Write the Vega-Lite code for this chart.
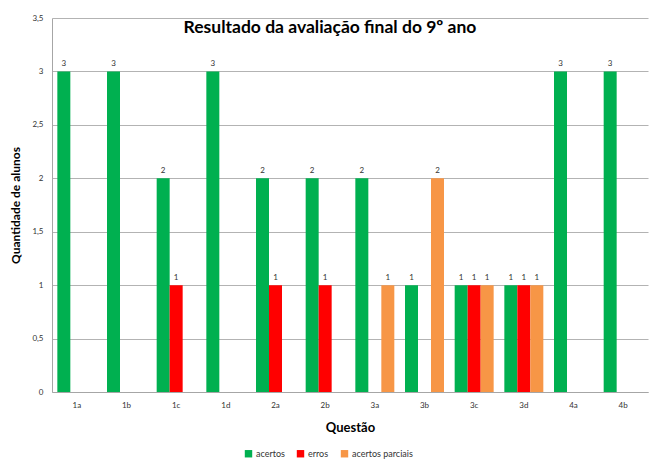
{
  "$schema": "https://vega.github.io/schema/vega-lite/v6.json",
  "width": 596,
  "height": 374,
  "autosize": {"type": "none"},
  "padding": {"left": 52, "top": 18, "right": 12, "bottom": 83},
  "background": "white",
  "title": {
    "text": "Resultado da avaliação final do 9º ano",
    "font": "Lato",
    "fontSize": 17.5,
    "fontWeight": "bold",
    "color": "black",
    "anchor": "middle",
    "baseline": "middle",
    "offset": 0,
    "dy": 31,
    "dx": -20
  },
  "data": {
    "values": [
      {"questao": "1a", "tipo": "acertos", "valor": 3},
      {"questao": "1a", "tipo": "erros", "valor": 0},
      {"questao": "1a", "tipo": "acertos parciais", "valor": 0},
      {"questao": "1b", "tipo": "acertos", "valor": 3},
      {"questao": "1b", "tipo": "erros", "valor": 0},
      {"questao": "1b", "tipo": "acertos parciais", "valor": 0},
      {"questao": "1c", "tipo": "acertos", "valor": 2},
      {"questao": "1c", "tipo": "erros", "valor": 1},
      {"questao": "1c", "tipo": "acertos parciais", "valor": 0},
      {"questao": "1d", "tipo": "acertos", "valor": 3},
      {"questao": "1d", "tipo": "erros", "valor": 0},
      {"questao": "1d", "tipo": "acertos parciais", "valor": 0},
      {"questao": "2a", "tipo": "acertos", "valor": 2},
      {"questao": "2a", "tipo": "erros", "valor": 1},
      {"questao": "2a", "tipo": "acertos parciais", "valor": 0},
      {"questao": "2b", "tipo": "acertos", "valor": 2},
      {"questao": "2b", "tipo": "erros", "valor": 1},
      {"questao": "2b", "tipo": "acertos parciais", "valor": 0},
      {"questao": "3a", "tipo": "acertos", "valor": 2},
      {"questao": "3a", "tipo": "erros", "valor": 0},
      {"questao": "3a", "tipo": "acertos parciais", "valor": 1},
      {"questao": "3b", "tipo": "acertos", "valor": 1},
      {"questao": "3b", "tipo": "erros", "valor": 0},
      {"questao": "3b", "tipo": "acertos parciais", "valor": 2},
      {"questao": "3c", "tipo": "acertos", "valor": 1},
      {"questao": "3c", "tipo": "erros", "valor": 1},
      {"questao": "3c", "tipo": "acertos parciais", "valor": 1},
      {"questao": "3d", "tipo": "acertos", "valor": 1},
      {"questao": "3d", "tipo": "erros", "valor": 1},
      {"questao": "3d", "tipo": "acertos parciais", "valor": 1},
      {"questao": "4a", "tipo": "acertos", "valor": 3},
      {"questao": "4a", "tipo": "erros", "valor": 0},
      {"questao": "4a", "tipo": "acertos parciais", "valor": 0},
      {"questao": "4b", "tipo": "acertos", "valor": 3},
      {"questao": "4b", "tipo": "erros", "valor": 0},
      {"questao": "4b", "tipo": "acertos parciais", "valor": 0}
    ]
  },
  "encoding": {
    "x": {
      "field": "questao",
      "type": "nominal",
      "sort": null,
      "scale": {"paddingInner": 0.215, "paddingOuter": 0.1075},
      "axis": {
        "title": "Questão",
        "titleFont": "Lato",
        "titleFontSize": 13,
        "titleFontWeight": "bold",
        "titleColor": "black",
        "titlePadding": 12,
        "labelAngle": 0,
        "labelFont": "Lato",
        "labelFontSize": 8,
        "labelColor": "#333333",
        "labelPadding": 9,
        "ticks": false,
        "domainColor": "#a6a6a6",
        "grid": false
      }
    },
    "xOffset": {
      "field": "tipo",
      "type": "nominal",
      "sort": ["acertos", "erros", "acertos parciais"],
      "scale": {"paddingInner": 0, "paddingOuter": 0}
    },
    "y": {
      "field": "valor",
      "type": "quantitative",
      "scale": {"domain": [0, 3.5]},
      "axis": {
        "title": "Quantidade de alunos",
        "titleFont": "Lato",
        "titleFontSize": 12,
        "titleFontWeight": "bold",
        "titleColor": "black",
        "titlePadding": 9,
        "values": [0, 0.5, 1, 1.5, 2, 2.5, 3, 3.5],
        "labelExpr": "replace(format(datum.value, ''), '.', ',')",
        "labelFont": "Lato",
        "labelFontSize": 8,
        "labelColor": "#333333",
        "labelPadding": 9,
        "ticks": false,
        "domainColor": "#a6a6a6",
        "gridColor": "#b3b3b3"
      }
    }
  },
  "layer": [
    {
      "mark": {"type": "bar"},
      "encoding": {
        "color": {
          "field": "tipo",
          "type": "nominal",
          "scale": {
            "domain": ["acertos", "erros", "acertos parciais"],
            "range": ["#00B050", "#FF0000", "#F79646"]
          },
          "legend": {
            "title": null,
            "orient": "none",
            "legendX": 192,
            "legendY": 431,
            "direction": "horizontal",
            "symbolType": "square",
            "symbolSize": 55,
            "symbolStrokeWidth": 0,
            "labelFont": "Lato",
            "labelFontSize": 9,
            "labelOffset": 3,
            "labelColor": "#333333",
            "columnPadding": 11
          }
        }
      }
    },
    {
      "transform": [{"filter": "datum.valor > 0"}],
      "mark": {"type": "text", "dy": -7, "font": "Lato", "fontSize": 8, "color": "#333333"},
      "encoding": {
        "text": {"field": "valor", "type": "quantitative"}
      }
    }
  ],
  "config": {
    "view": {"stroke": null}
  }
}
